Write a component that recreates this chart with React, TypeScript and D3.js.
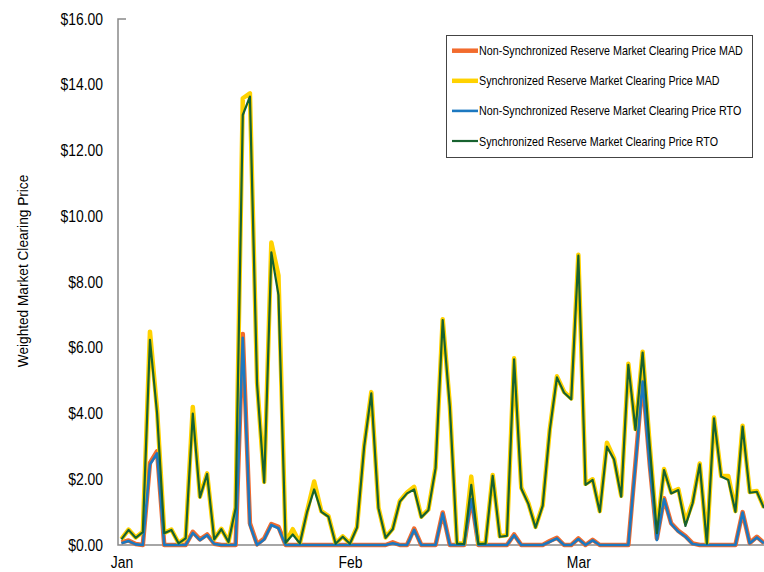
import React, { useEffect, useRef } from "react";
import * as d3 from "d3";

// daily categories, Jan 1 onward
const dates = d3.timeDay.range(new Date(2013, 0, 1), new Date(2013, 3, 2));

const nsrMad = [
  0.08, 0.14, 0.03, 0, 2.5, 2.85, 0, 0, 0, 0,
  0.4, 0.17, 0.32, 0.04, 0, 0, 0, 6.42, 0.66, 0.02,
  0.2, 0.64, 0.55, 0, 0, 0, 0, 0, 0, 0,
  0, 0, 0, 0, 0, 0, 0, 0, 0.08, 0,
  0, 0.5, 0, 0, 0, 0.99, 0, 0, 0, 1.45,
  0, 0, 0, 0, 0, 0.32, 0, 0, 0, 0,
  0.12, 0.22, 0, 0, 0.2, 0, 0.16, 0, 0, 0,
  0, 0, 2.5, 5.05, 2.45, 0.2, 1.42, 0.66, 0.43, 0.27,
  0.05, 0, 0, 0, 0, 0, 0, 1.0, 0.06, 0.25,
  0.06,
];

const srMad = [
  0.18, 0.47, 0.23, 0.4, 6.49, 4.1, 0.37, 0.47, 0.06, 0.21,
  4.2, 1.47, 2.18, 0.18, 0.49, 0.1, 1.14, 13.59, 13.74, 4.95,
  1.92, 9.2, 8.2, 0.08, 0.48, 0.06, 1.02, 1.93, 1.03, 0.88,
  0.05, 0.26, 0.05, 0.55, 3.02, 4.65, 1.14, 0.23, 0.5, 1.34,
  1.6, 1.77, 0.86, 1.08, 2.36, 6.87, 4.25, 0.05, 0.04, 2.08,
  0.04, 0.05, 2.13, 0.27, 0.3, 5.68, 1.75, 1.27, 0.55, 1.21,
  3.53, 5.13, 4.66, 4.46, 8.83, 1.86, 2.0, 1.03, 3.11, 2.63,
  1.5, 5.51, 3.53, 5.88, 3.03, 0.38, 2.31, 1.6, 1.7, 0.7,
  1.3, 2.48, 0.05, 3.88, 2.1, 2.1, 1.03, 3.63, 1.61, 1.64,
  1.14,
];

const nsrRto = [
  0.05, 0.12, 0.02, 0, 2.45, 2.79, 0, 0, 0, 0,
  0.37, 0.15, 0.3, 0.03, 0, 0, 0, 6.3, 0.61, 0,
  0.17, 0.61, 0.51, 0, 0, 0, 0, 0, 0, 0,
  0, 0, 0, 0, 0, 0, 0, 0, 0.05, 0,
  0, 0.46, 0, 0, 0, 0.96, 0, 0, 0, 1.39,
  0, 0, 0, 0, 0, 0.3, 0, 0, 0, 0,
  0.1, 0.2, 0, 0, 0.18, 0, 0.14, 0, 0, 0,
  0, 0, 2.45, 4.97, 2.4, 0.15, 1.4, 0.64, 0.41, 0.25,
  0.03, 0, 0, 0, 0, 0, 0, 0.99, 0.05, 0.23,
  0.05,
];

const srRto = [
  0.17, 0.46, 0.22, 0.39, 6.24, 4.0, 0.36, 0.46, 0.05, 0.2,
  4.0, 1.45, 2.16, 0.17, 0.48, 0.09, 1.12, 13.08, 13.64, 4.9,
  1.9, 8.9, 7.6, 0.07, 0.32, 0.05, 1.0, 1.69, 1.01, 0.86,
  0.04, 0.25, 0.04, 0.53, 2.99, 4.61, 1.12, 0.22, 0.48, 1.32,
  1.57, 1.69, 0.84, 1.06, 2.33, 6.84, 4.2, 0.04, 0.03, 1.83,
  0.03, 0.04, 2.1, 0.25, 0.28, 5.65, 1.72, 1.25, 0.53, 1.19,
  3.5, 5.1, 4.63, 4.43, 8.8, 1.83, 1.98, 1.01, 2.99, 2.6,
  1.47, 5.48, 3.5, 5.85, 3.0, 0.36, 2.28, 1.57, 1.67, 0.58,
  1.27, 2.45, 0.04, 3.85, 2.08, 1.98, 1.01, 3.6, 1.59, 1.62,
  1.12,
];

const seriesNames = [
  "Non-Synchronized Reserve Market Clearing Price MAD",
  "Synchronized Reserve Market Clearing Price MAD",
  "Non-Synchronized Reserve Market Clearing Price RTO",
  "Synchronized Reserve Market Clearing Price RTO",
];
const seriesValues = [nsrMad, srMad, nsrRto, srRto];
const seriesColors = ["#F26B2D", "#FFD200", "#1C78C0", "#17622F"];
const seriesWidths = [4.5, 4.5, 2.6, 2.2];

const yTicks = [0, 2, 4, 6, 8, 10, 12, 14, 16];
const yTitle = "Weighted Market Clearing Price";

const FONT = "'Liberation Sans', Arial, sans-serif";

// squeeze text horizontally so it looks like Arial Narrow
function condense(sel: any, k: number) {
  sel.each(function (this: SVGTextElement) {
    const w = this.getComputedTextLength();
    this.setAttribute("textLength", String(w * k));
    this.setAttribute("lengthAdjust", "spacingAndGlyphs");
  });
}

export default function App() {
  const ref = useRef<SVGSVGElement>(null);

  useEffect(() => {
    const svg = d3.select(ref.current);
    svg.selectAll("*").remove();

    const x = d3
      .scalePoint<number>()
      .domain(d3.range(dates.length))
      .range([121.4, 764]);
    const y = d3.scaleLinear().domain([0, 16]).range([545, 19]);

    // y axis
    const gy = svg
      .append("g")
      .attr("transform", "translate(118,0)")
      .call(
        d3
          .axisLeft(y)
          .tickValues(yTicks)
          .tickFormat(d3.format("$.2f") as any)
          .tickSize(0)
          .tickPadding(15)
      );
    gy.select(".domain").remove();
    gy.selectAll("text")
      .attr("font-family", FONT)
      .attr("font-size", 16)
      .attr("fill", "#000");
    condense(gy.selectAll("text"), 0.87);

    // x axis, a label every 32 days
    const fmt = d3.timeFormat("%b");
    const gx = svg
      .append("g")
      .attr("transform", "translate(0,545)")
      .call(
        d3
          .axisBottom(x)
          .tickValues(d3.range(0, dates.length, 32))
          .tickFormat((i: number) => fmt(dates[i]))
          .tickSize(0)
          .tickPadding(12)
      );
    gx.select(".domain").remove();
    gx.selectAll("text")
      .attr("font-family", FONT)
      .attr("font-size", 16)
      .attr("fill", "#000");
    condense(gx.selectAll("text"), 0.87);

    // axis lines
    svg
      .append("path")
      .attr("d", "M126,19H118V545H764")
      .attr("fill", "none")
      .attr("stroke", "#898989")
      .attr("stroke-width", 1.5);

    // y title
    const yt = svg
      .append("text")
      .attr("transform", "translate(28,271) rotate(-90)")
      .attr("text-anchor", "middle")
      .attr("font-family", FONT)
      .attr("font-size", 15)
      .text(yTitle);
    condense(yt, 0.91);

    // series
    const line = d3
      .line<number>()
      .x((_, i) => x(i) as number)
      .y((d) => y(d));

    svg
      .append("g")
      .selectAll("path")
      .data(seriesValues)
      .join("path")
      .attr("d", (d) => line(d))
      .attr("fill", "none")
      .attr("stroke", (_, i) => seriesColors[i])
      .attr("stroke-width", (_, i) => seriesWidths[i])
      .attr("stroke-linejoin", "round");

    // legend
    const lg = svg.append("g");
    lg.append("rect")
      .attr("x", 446.5)
      .attr("y", 35.5)
      .attr("width", 306)
      .attr("height", 122)
      .attr("fill", "#fff")
      .attr("stroke", "#444")
      .attr("stroke-width", 1);
    const rows = lg
      .selectAll("g.row")
      .data(seriesNames)
      .join("g")
      .attr("class", "row")
      .attr("transform", (_, i) => `translate(0,${50.7 + i * 30.1})`);
    rows
      .append("line")
      .attr("x1", 452)
      .attr("x2", 478)
      .attr("stroke", (_, i) => seriesColors[i])
      .attr("stroke-width", (_, i) => seriesWidths[i]);
    // narrow look via a horizontal scale, so the box stays honest
    rows
      .append("text")
      .attr("transform", "translate(479,0) scale(0.825,1)")
      .attr("dy", "0.35em")
      .attr("font-family", FONT)
      .attr("font-size", 13)
      .text((d) => d);
  }, []);

  return (
    <svg
      ref={ref}
      width={764}
      height={572}
      style={{ position: "absolute", left: 0, top: 0, background: "#fff" }}
    />
  );
}
